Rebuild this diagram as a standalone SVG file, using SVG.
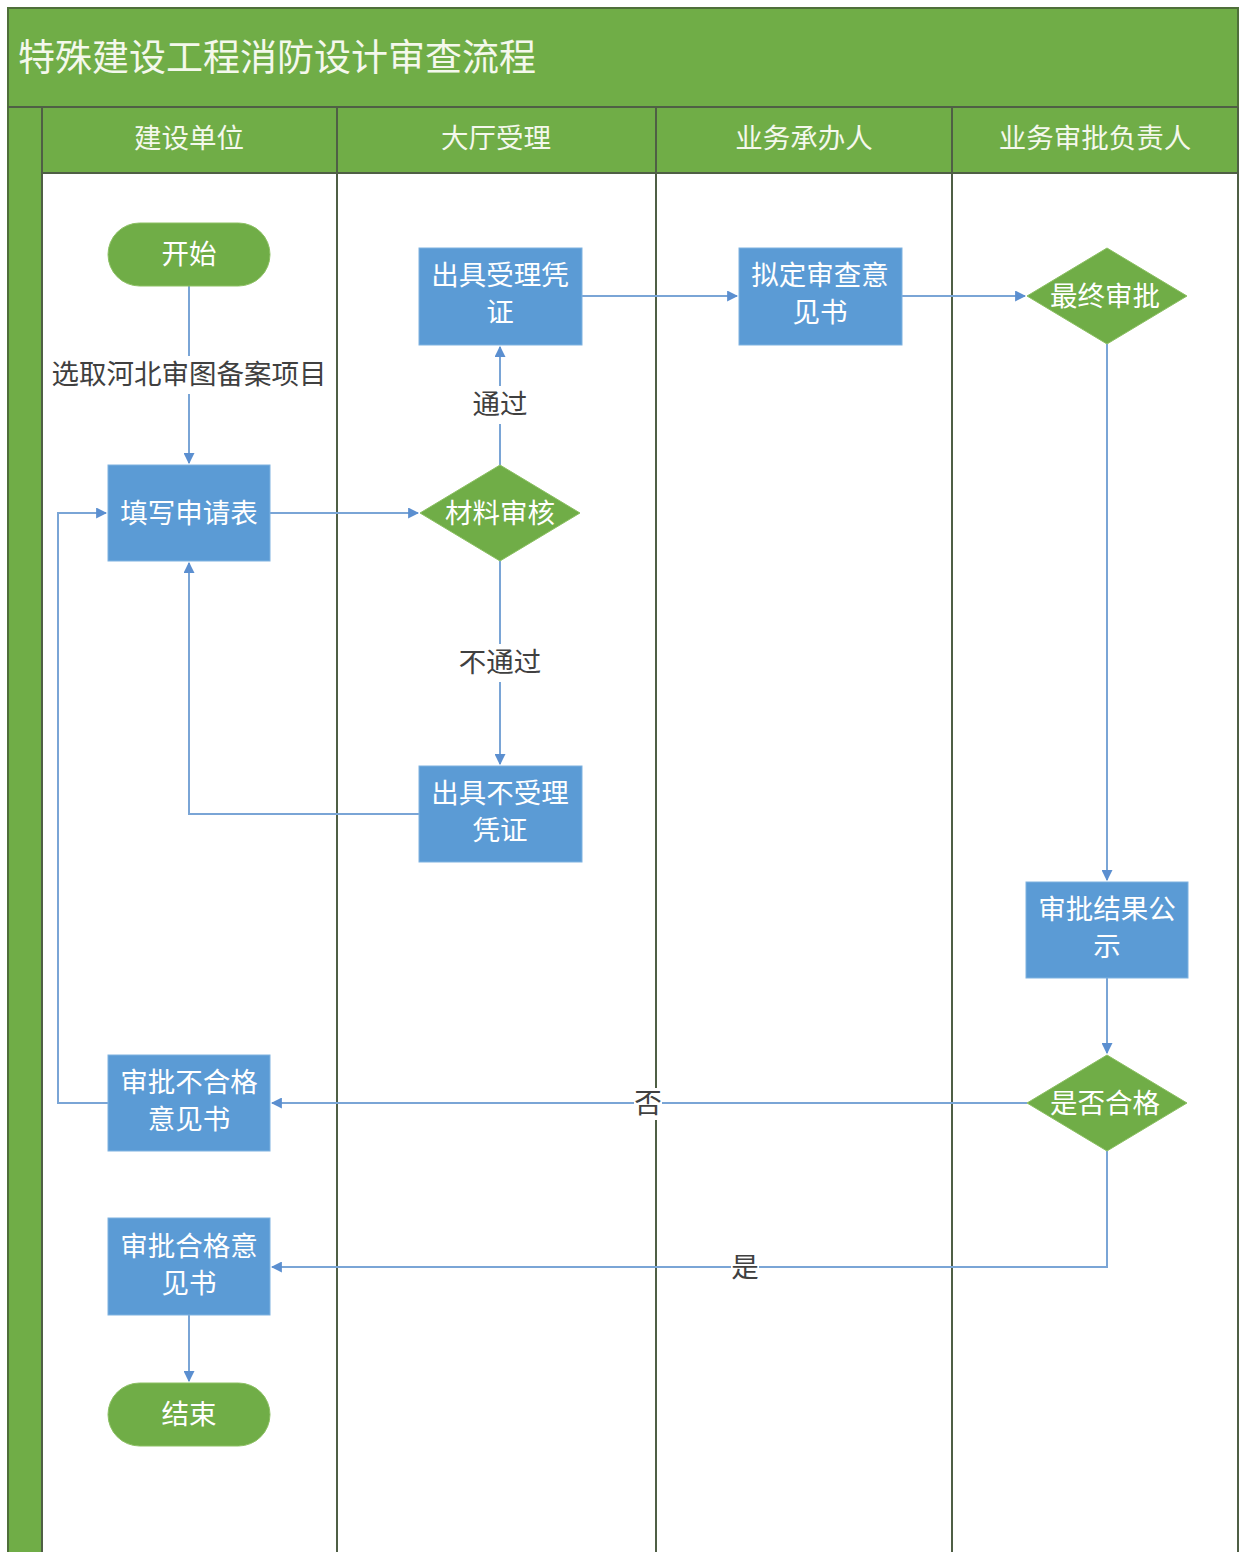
<svg xmlns="http://www.w3.org/2000/svg" width="1241" height="1552" viewBox="0 0 1241 1552">
<defs>
<marker id="arr" viewBox="0 0 10 10" refX="9" refY="5" markerWidth="11" markerHeight="11" markerUnits="userSpaceOnUse" orient="auto">
<path d="M0,0 L10,5 L0,10 z" fill="#5B8FD0"/>
</marker>
<style>
.t{font-family:"Noto Sans CJK SC","Liberation Sans",sans-serif;}
.hd{fill:#F4F8EC;font-size:27.5px;text-anchor:middle;}
.nt{fill:#FFFFFF;font-size:27.5px;text-anchor:middle;}
.lb{fill:#404040;font-size:27.5px;text-anchor:middle;}
.box{fill:#5B9BD5;stroke:#7FB2E0;stroke-width:1;}
.grn{fill:#70AD47;stroke:#8CC063;stroke-width:1;}
.ln{fill:none;stroke:#7AA5D6;stroke-width:2;}
.lane{stroke:#4F5F45;stroke-width:2;}
</style>
</defs>
<rect width="1241" height="1552" fill="#FFFFFF"/>
<g id="frame">
<rect x="8" y="8" width="1230" height="1560" fill="#70AD47" stroke="#4F6F3A" stroke-width="2"/>
<rect x="42" y="173" width="1196" height="1400" fill="#FFFFFF"/>
<line x1="8" y1="107" x2="1238" y2="107" class="lane"/>
<line x1="42" y1="173" x2="1238" y2="173" class="lane"/>
<line x1="42" y1="107" x2="42" y2="1552" class="lane"/>
<line x1="337" y1="107" x2="337" y2="1552" class="lane"/>
<line x1="656" y1="107" x2="656" y2="1552" class="lane"/>
<line x1="952" y1="107" x2="952" y2="1552" class="lane"/>
<line x1="1238" y1="107" x2="1238" y2="1552" class="lane"/>
<text x="18" y="71" class="t" font-size="37" fill="#F4F8EC">特殊建设工程消防设计审查流程</text>
<text x="189" y="148" class="t hd">建设单位</text>
<text x="496" y="148" class="t hd">大厅受理</text>
<text x="804" y="148" class="t hd">业务承办人</text>
<text x="1095" y="148" class="t hd">业务审批负责人</text>
</g>
<g id="connectors">
<line x1="189" y1="286" x2="189" y2="463" class="ln" marker-end="url(#arr)"/>
<rect x="50" y="356" width="278" height="38" fill="#FFFFFF"/>
<text x="189" y="384" class="t lb">选取河北审图备案项目</text>
<line x1="270" y1="513" x2="418" y2="513" class="ln" marker-end="url(#arr)"/>
<line x1="500" y1="465" x2="500" y2="347" class="ln" marker-end="url(#arr)"/>
<rect x="468" y="386" width="64" height="38" fill="#FFFFFF"/>
<text x="500" y="414" class="t lb">通过</text>
<line x1="500" y1="561" x2="500" y2="764" class="ln" marker-end="url(#arr)"/>
<rect x="455" y="644" width="90" height="38" fill="#FFFFFF"/>
<text x="500" y="672" class="t lb">不通过</text>
<polyline points="419,814 189,814 189,563" class="ln" marker-end="url(#arr)"/>
<line x1="582" y1="296" x2="737" y2="296" class="ln" marker-end="url(#arr)"/>
<line x1="902" y1="296" x2="1025" y2="296" class="ln" marker-end="url(#arr)"/>
<line x1="1107" y1="344" x2="1107" y2="880" class="ln" marker-end="url(#arr)"/>
<line x1="1107" y1="978" x2="1107" y2="1053" class="ln" marker-end="url(#arr)"/>
<line x1="1027" y1="1103" x2="272" y2="1103" class="ln" marker-end="url(#arr)"/>
<rect x="634" y="1088" width="28" height="32" fill="#FFFFFF"/>
<text x="648" y="1113" class="t lb">否</text>
<polyline points="108,1103 58,1103 58,513 106,513" class="ln" marker-end="url(#arr)"/>
<polyline points="1107,1151 1107,1267 272,1267" class="ln" marker-end="url(#arr)"/>
<rect x="731" y="1252" width="28" height="32" fill="#FFFFFF"/>
<text x="745" y="1277" class="t lb">是</text>
<line x1="189" y1="1315" x2="189" y2="1381" class="ln" marker-end="url(#arr)"/>
</g>
<g id="n_start">
<rect x="108" y="223" width="162" height="63" rx="31.5" class="grn"/>
<text x="189" y="264" class="t nt">开始</text>
</g>
<g id="n_fill">
<rect x="108" y="465" width="162" height="96" class="box"/>
<text x="189" y="523" class="t nt">填写申请表</text>
</g>
<g id="n_accept">
<rect x="419" y="248" width="163" height="97" class="box"/>
<text x="500" y="285" class="t nt">出具受理凭</text>
<text x="500" y="322" class="t nt">证</text>
</g>
<g id="n_review">
<polygon points="500,465 580,513 500,561 420,513" class="grn"/>
<text x="500" y="523" class="t nt">材料审核</text>
</g>
<g id="n_reject">
<rect x="419" y="766" width="163" height="96" class="box"/>
<text x="500" y="803" class="t nt">出具不受理</text>
<text x="500" y="840" class="t nt">凭证</text>
</g>
<g id="n_draft">
<rect x="739" y="248" width="163" height="97" class="box"/>
<text x="820" y="285" class="t nt">拟定审查意</text>
<text x="820" y="322" class="t nt">见书</text>
</g>
<g id="n_final">
<polygon points="1107,248 1187,296 1107,344 1027,296" class="grn"/>
<text x="1105" y="306" class="t nt">最终审批</text>
</g>
<g id="n_publish">
<rect x="1026" y="882" width="162" height="96" class="box"/>
<text x="1107" y="919" class="t nt">审批结果公</text>
<text x="1107" y="956" class="t nt">示</text>
</g>
<g id="n_qualified">
<polygon points="1107,1055 1187,1103 1107,1151 1027,1103" class="grn"/>
<text x="1105" y="1113" class="t nt">是否合格</text>
</g>
<g id="n_fail">
<rect x="108" y="1055" width="162" height="96" class="box"/>
<text x="189" y="1092" class="t nt">审批不合格</text>
<text x="189" y="1129" class="t nt">意见书</text>
</g>
<g id="n_pass">
<rect x="108" y="1218" width="162" height="97" class="box"/>
<text x="189" y="1256" class="t nt">审批合格意</text>
<text x="189" y="1293" class="t nt">见书</text>
</g>
<g id="n_end">
<rect x="108" y="1383" width="162" height="63" rx="31.5" class="grn"/>
<text x="189" y="1424" class="t nt">结束</text>
</g>
</svg>
